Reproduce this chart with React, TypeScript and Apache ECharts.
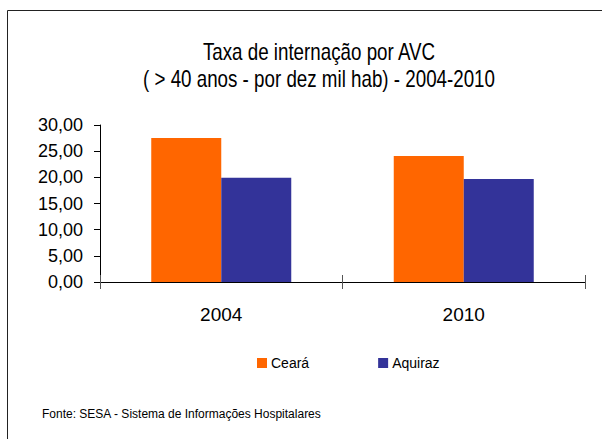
import React, { useEffect, useRef } from "react";
import * as echarts from "echarts";

const categories = ["2004", "2010"];
const cearaValues = [27.5, 24.1];
const aquirazValues = [19.9, 19.7];
const seriesNames = ["Ceará", "Aquiraz"];
const titleLines = ["Taxa de internação por AVC", "( > 40 anos - por dez mil hab) - 2004-2010"];
const sourceText = "Fonte: SESA - Sistema de Informações Hospitalares";

export default function App() {
  const ref = useRef<HTMLDivElement>(null);
  useEffect(() => {
    if (!ref.current) return;
    const chart = echarts.init(ref.current, undefined, { renderer: "svg" });
    const sans = "'Liberation Sans', Arial, sans-serif";
    const titleStyle = (text: string) => ({
      text,
      fontFamily: sans,
      fontSize: 23,
      fill: "#000",
      align: "center",
      verticalAlign: "middle",
    });
    chart.setOption({
      animation: false,
      backgroundColor: "#ffffff",
      grid: { left: 100, right: 17, top: 125, bottom: 157, containLabel: false },
      legend: {
        data: seriesNames,
        left: 257,
        top: 356,
        padding: 0,
        icon: "rect",
        itemWidth: 10,
        itemHeight: 10,
        itemGap: 69,
        textStyle: { fontFamily: sans, fontSize: 14, color: "#000", padding: [0, 0, 0, -1] },
      },
      xAxis: [
        {
          type: "category",
          data: categories,
          axisLine: { show: true, lineStyle: { color: "#000", width: 1 } },
          axisTick: { show: true, inside: false, length: 7, lineStyle: { color: "#555" } },
          axisLabel: { fontFamily: sans, fontSize: 19, color: "#000", margin: 23 },
          splitLine: { show: false },
        },
        {
          type: "category",
          data: categories,
          position: "bottom",
          axisLine: { show: false },
          axisTick: { show: true, inside: true, length: 7, lineStyle: { color: "#555" } },
          axisLabel: { show: false },
          splitLine: { show: false },
        },
      ],
      yAxis: {
        type: "value",
        min: 0,
        max: 30,
        interval: 5,
        axisLine: { show: true, lineStyle: { color: "#000", width: 1 } },
        axisTick: { show: true, inside: false, length: 6, lineStyle: { color: "#000" } },
        axisLabel: {
          fontFamily: sans,
          fontSize: 18,
          color: "#000",
          margin: 17,
          formatter: (v: number) => v.toFixed(2).replace(".", ","),
        },
        splitLine: { show: false },
      },
      series: [
        {
          name: seriesNames[0],
          type: "bar",
          data: cearaValues,
          barWidth: 70,
          barGap: "0%",
          itemStyle: { color: "#FF6600" },
        },
        {
          name: seriesNames[1],
          type: "bar",
          data: aquirazValues,
          barWidth: 70,
          barGap: "0%",
          itemStyle: { color: "#333399" },
        },
      ],
      graphic: [
        {
          type: "rect",
          shape: { x: 7.5, y: 10.5, width: 620, height: 460 },
          style: { fill: "none", stroke: "#222", lineWidth: 1 },
          silent: true,
        },
        {
          type: "text",
          x: 319,
          y: 52,
          scaleX: 0.816,
          style: titleStyle(titleLines[0]),
        },
        {
          type: "text",
          x: 319,
          y: 79,
          scaleX: 0.816,
          style: titleStyle(titleLines[1]),
        },
        {
          type: "text",
          left: 42,
          top: 408,
          style: { text: sourceText, fontFamily: sans, fontSize: 12, fill: "#000" },
        },
      ],
    });
    return () => chart.dispose();
  }, []);
  return <div ref={ref} style={{ position: "fixed", left: 0, top: 0, width: 602, height: 439 }} />;
}
